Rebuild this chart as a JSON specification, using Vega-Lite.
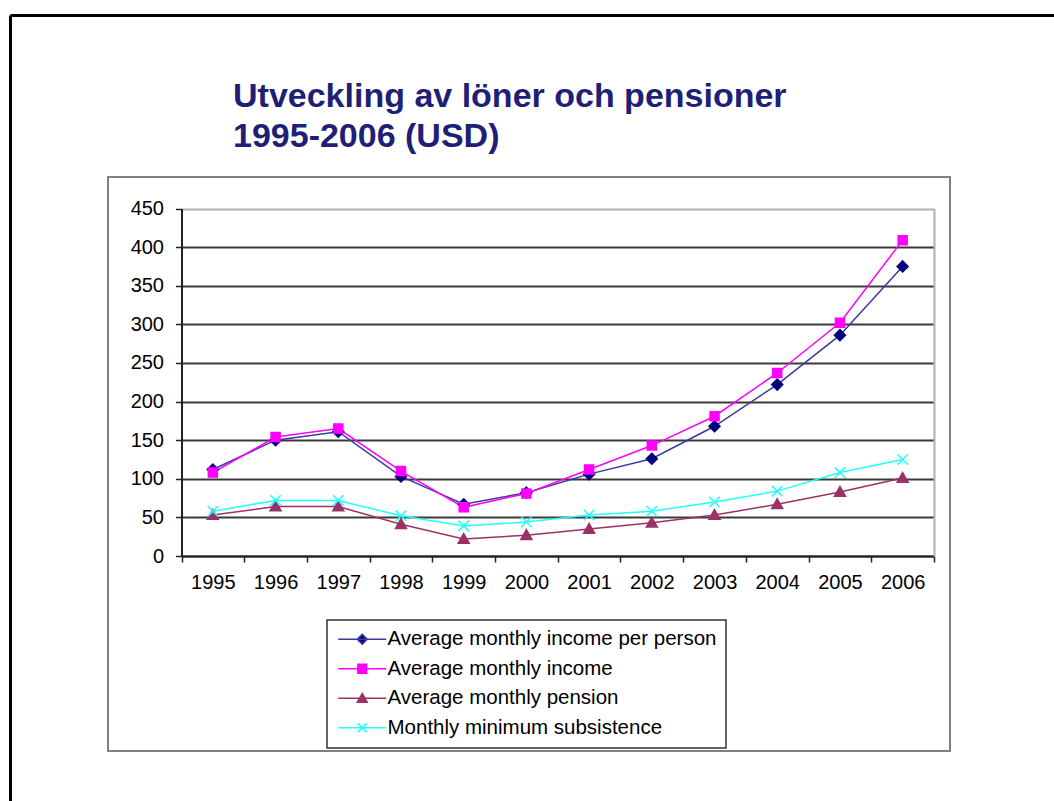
{
  "$schema": "https://vega.github.io/schema/vega-lite/v6.json",
  "width": 842,
  "height": 574,
  "autosize": "none",
  "padding": {"left": 108, "top": 177, "right": 104, "bottom": 50},
  "background": "white",
  "title": {
    "text": ["Utveckling av löner och pensioner", "1995-2006 (USD)"],
    "anchor": "start",
    "frame": "group",
    "dx": 125,
    "dy": 166,
    "offset": 0,
    "baseline": "alphabetic",
    "font": "Liberation Sans",
    "fontSize": 34,
    "fontWeight": "bold",
    "color": "#1f1f75",
    "lineHeight": 40
  },
  "config": {
    "view": {"stroke": "#808080", "strokeWidth": 2},
    "font": "Liberation Sans"
  },
  "data": {
    "values": [
      {"year": "1995", "series": "Average monthly income per person", "value": 112},
      {"year": "1996", "series": "Average monthly income per person", "value": 150},
      {"year": "1997", "series": "Average monthly income per person", "value": 161},
      {"year": "1998", "series": "Average monthly income per person", "value": 103},
      {"year": "1999", "series": "Average monthly income per person", "value": 67},
      {"year": "2000", "series": "Average monthly income per person", "value": 82},
      {"year": "2001", "series": "Average monthly income per person", "value": 106},
      {"year": "2002", "series": "Average monthly income per person", "value": 126},
      {"year": "2003", "series": "Average monthly income per person", "value": 168},
      {"year": "2004", "series": "Average monthly income per person", "value": 222},
      {"year": "2005", "series": "Average monthly income per person", "value": 286},
      {"year": "2006", "series": "Average monthly income per person", "value": 375},
      {"year": "1995", "series": "Average monthly income", "value": 108},
      {"year": "1996", "series": "Average monthly income", "value": 154},
      {"year": "1997", "series": "Average monthly income", "value": 165},
      {"year": "1998", "series": "Average monthly income", "value": 110},
      {"year": "1999", "series": "Average monthly income", "value": 63},
      {"year": "2000", "series": "Average monthly income", "value": 81},
      {"year": "2001", "series": "Average monthly income", "value": 112},
      {"year": "2002", "series": "Average monthly income", "value": 143},
      {"year": "2003", "series": "Average monthly income", "value": 181},
      {"year": "2004", "series": "Average monthly income", "value": 237},
      {"year": "2005", "series": "Average monthly income", "value": 302},
      {"year": "2006", "series": "Average monthly income", "value": 409},
      {"year": "1995", "series": "Average monthly pension", "value": 53},
      {"year": "1996", "series": "Average monthly pension", "value": 64},
      {"year": "1997", "series": "Average monthly pension", "value": 64},
      {"year": "1998", "series": "Average monthly pension", "value": 41},
      {"year": "1999", "series": "Average monthly pension", "value": 22},
      {"year": "2000", "series": "Average monthly pension", "value": 27},
      {"year": "2001", "series": "Average monthly pension", "value": 35},
      {"year": "2002", "series": "Average monthly pension", "value": 43},
      {"year": "2003", "series": "Average monthly pension", "value": 53},
      {"year": "2004", "series": "Average monthly pension", "value": 67},
      {"year": "2005", "series": "Average monthly pension", "value": 83},
      {"year": "2006", "series": "Average monthly pension", "value": 101},
      {"year": "1995", "series": "Monthly minimum subsistence", "value": 58},
      {"year": "1996", "series": "Monthly minimum subsistence", "value": 72},
      {"year": "1997", "series": "Monthly minimum subsistence", "value": 72},
      {"year": "1998", "series": "Monthly minimum subsistence", "value": 52},
      {"year": "1999", "series": "Monthly minimum subsistence", "value": 39},
      {"year": "2000", "series": "Monthly minimum subsistence", "value": 44},
      {"year": "2001", "series": "Monthly minimum subsistence", "value": 53},
      {"year": "2002", "series": "Monthly minimum subsistence", "value": 58},
      {"year": "2003", "series": "Monthly minimum subsistence", "value": 70},
      {"year": "2004", "series": "Monthly minimum subsistence", "value": 84},
      {"year": "2005", "series": "Monthly minimum subsistence", "value": 108},
      {"year": "2006", "series": "Monthly minimum subsistence", "value": 125}
    ]
  },
  "layer": [
    {
      "encoding": {
        "x": {
          "field": "year",
          "type": "ordinal",
          "scale": {"type": "band", "range": [73.5, 826], "paddingInner": 0, "paddingOuter": 0},
          "axis": {
            "orient": "bottom",
            "offset": -195,
            "title": null,
            "tickBand": "extent",
            "labelAngle": 0,
            "labelFontSize": 20,
            "labelColor": "#000",
            "labelPadding": 10,
            "domainColor": "#222",
            "domainWidth": 2,
            "tickColor": "#222",
            "tickWidth": 1.5,
            "tickSize": 6,
            "grid": false
          }
        }
      },
      "layer": [
        {
          "mark": {"type": "line", "strokeWidth": 1.5},
          "encoding": {
            "y": {
              "field": "value",
              "type": "quantitative",
              "scale": {"domain": [0, 450], "range": [379, 31.5], "nice": false, "zero": true},
              "axis": {
                "orient": "left",
                "offset": -73.5,
                "title": null,
                "values": [0, 50, 100, 150, 200, 250, 300, 350, 400, 450],
                "labelFontSize": 20,
                "labelColor": "#000",
                "labelPadding": 12,
                "domainColor": "#222",
                "domainWidth": 2,
                "tickColor": "#222",
                "tickWidth": 1.5,
                "tickSize": 6,
                "grid": true,
                "gridColor": {"condition": {"test": "datum.value === 450", "value": "#b0b0b0"}, "value": "#3a3a3a"},
                "gridWidth": 2
              }
            },
            "color": {
              "field": "series",
              "type": "nominal",
              "scale": {
                "domain": ["Average monthly income per person", "Average monthly income", "Average monthly pension", "Monthly minimum subsistence"],
                "range": ["#3a3a9a", "#ff00ff", "#993366", "#22ffff"]
              },
              "legend": {
                "orient": "none",
                "legendX": 219,
                "legendY": 443,
                "title": null,
                "labelFontSize": 20.5,
                "labelColor": "#000",
                "labelLimit": 600,
                "labelOffset": 15,
                "symbolSize": 256,
                "symbolOffset": 16,
                "rowPadding": 8.5,
                "padding": 9,
                "fillColor": "white",
                "encode": {
                  "legend": {"update": {"stroke": {"value": "#333"}, "strokeWidth": {"value": 1.5}}},
                  "symbols": {
                    "update": {
                      "shape": {"signal": "datum.value === 'Average monthly income per person' ? 'M-3,0H3M0,-0.62L0.62,0L0,0.62L-0.62,0Z' : datum.value === 'Average monthly income' ? 'M-3,0H3M-0.55,-0.55H0.55V0.55H-0.55Z' : datum.value === 'Average monthly pension' ? 'M-3,0H3M0,-0.6L0.62,0.5H-0.62Z' : 'M-3,0H3M-0.55,-0.55L0.55,0.55M-0.55,0.55L0.55,-0.55'"},
                      "stroke": {"signal": "scale('color', datum.value)"},
                      "fill": {"signal": "datum.value === 'Average monthly income per person' ? '#000080' : scale('color', datum.value)"},
                      "strokeWidth": {"value": 1.5},
                      "opacity": {"value": 1}
                    }
                  }
                }
              }
            }
          }
        },
        {
          "transform": [{"filter": "datum.series === 'Average monthly income per person'"}],
          "mark": {"type": "point", "shape": "M0,-1.1L1.1,0L0,1.1L-1.1,0Z", "fill": "#000080", "stroke": "#000080", "fillOpacity": 1, "strokeWidth": 1.5, "size": 100},
          "encoding": {
            "y": {
              "field": "value",
              "type": "quantitative",
              "scale": {"domain": [0, 450], "range": [379, 31.5], "nice": false, "zero": true},
              "axis": {
                "orient": "right",
                "offset": -16,
                "title": null,
                "labels": false,
                "ticks": false,
                "grid": false,
                "domainColor": "#b0b0b0",
                "domainWidth": 2
              }
            }
          }
        },
        {
          "transform": [{"filter": "datum.series === 'Average monthly income'"}],
          "mark": {"type": "point", "shape": "M-0.9,-0.9H0.9V0.9H-0.9Z", "fill": "#ff00ff", "stroke": "#ff00ff", "fillOpacity": 1, "strokeWidth": 1.5, "size": 100},
          "encoding": {"y": {"field": "value", "type": "quantitative", "axis": null}}
        },
        {
          "transform": [{"filter": "datum.series === 'Average monthly pension'"}],
          "mark": {"type": "point", "shape": "M0,-1.1L1.1,0.85H-1.1Z", "fill": "#993366", "stroke": "#993366", "fillOpacity": 1, "strokeWidth": 1.5, "size": 100},
          "encoding": {"y": {"field": "value", "type": "quantitative", "axis": null}}
        },
        {
          "transform": [{"filter": "datum.series === 'Monthly minimum subsistence'"}],
          "mark": {"type": "point", "shape": "M-1,-1L1,1M-1,1L1,-1", "fill": "#22ffff", "stroke": "#22ffff", "fillOpacity": 1, "strokeWidth": 1.5, "size": 110},
          "encoding": {"y": {"field": "value", "type": "quantitative", "axis": null}}
        }
      ],
      "resolve": {"axis": {"y": "independent"}}
    },
    {
      "mark": {"type": "point", "opacity": 0},
      "encoding": {
        "x": {
          "field": "year",
          "type": "ordinal",
          "scale": {"type": "band", "range": [-98, 950], "paddingInner": 0, "paddingOuter": 0},
          "axis": {"orient": "top", "offset": 162, "title": null, "labels": false, "ticks": false, "grid": false, "domainColor": "#000", "domainWidth": 3}
        },
        "y": {
          "field": "value",
          "type": "quantitative",
          "scale": {"domain": [0, 450], "range": [630, -162], "nice": false, "zero": true},
          "axis": {"orient": "left", "offset": 98, "title": null, "labels": false, "ticks": false, "grid": false, "domainColor": "#000", "domainWidth": 3}
        }
      }
    }
  ],
  "resolve": {"scale": {"x": "independent", "y": "independent"}, "axis": {"x": "independent", "y": "independent"}}
}
